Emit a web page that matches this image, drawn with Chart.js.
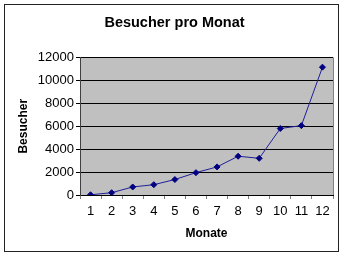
<!DOCTYPE html>
<html lang="de">
<head>
    <meta charset="UTF-8">
    <title>Besucher pro Monat</title>
    <script src="https://cdn.jsdelivr.net/npm/chart.js@4/dist/chart.umd.min.js"></script>
    <style>
        html, body { margin: 0; padding: 0; background: #fff; }
        #wrap { width: 344px; height: 256px; }
    </style>
</head>
<body>
<div id="wrap"><canvas id="myChart" width="344" height="256"></canvas></div>
<script>
    // ------------------------------------------------------------------ data

    var months = ['1', '2', '3', '4', '5', '6', '7', '8', '9', '10', '11', '12']
    var visitors = [20, 200, 700, 900, 1350, 1950, 2450, 3380, 3200, 5800, 6050, 11150]
    var yTicks = [0, 2000, 4000, 6000, 8000, 10000, 12000]

    // -------------------------------------------------------------- plugins

    // grey plot area plus the outer frame, like the old Excel chart
    var excelLook = {
      id: 'excelLook',
      beforeDraw: function (chart) {
        var ctx = chart.ctx
        var a = chart.chartArea
        ctx.save()
        ctx.fillStyle = '#fff'
        ctx.fillRect(0, 0, chart.width, chart.height)
        ctx.strokeStyle = '#222'
        ctx.lineWidth = 1
        ctx.strokeRect(4.5, 4.5, 334, 247)
        ctx.fillStyle = '#c0c0c0'
        ctx.fillRect(a.left, a.top, a.right - a.left, a.bottom - a.top)
        ctx.restore()
      },
      afterDatasetsDraw: function (chart) {
        var ctx = chart.ctx
        var a = chart.chartArea
        ctx.save()
        ctx.strokeStyle = '#808080'
        ctx.lineWidth = 1
        ctx.beginPath()
        ctx.moveTo(Math.round(a.right) + 0.5, a.top)
        ctx.lineTo(Math.round(a.right) + 0.5, a.bottom)
        ctx.stroke()
        ctx.restore()
      }
    }

    // ---------------------------------------------------------------- chart

    var ctx = document.getElementById('myChart').getContext('2d')

    var myChart = new Chart(ctx, {
      type: 'line',
      data: {
        labels: months,
        datasets: [{
          label: 'Besucher',
          data: visitors,
          borderColor: '#1f1f99',
          borderWidth: 1,
          pointStyle: 'rectRot',
          pointRadius: 3,
          pointBackgroundColor: '#000080',
          pointBorderColor: '#000080',
          pointBorderWidth: 1,
          tension: 0
        }]
      },
      options: {
        responsive: false,
        animation: false,
        layout: { padding: { left: 16, right: 11, top: 0, bottom: 10 } },
        plugins: {
          legend: { display: false },
          tooltip: { enabled: false },
          title: {
            display: true,
            text: 'Besucher pro Monat',
            color: '#000',
            font: { family: 'Liberation Sans', size: 14.5, weight: 'bold' },
            padding: { top: 14, bottom: 26 }
          }
        },
        scales: {
          x: {
            offset: true,
            grid: {
              offset: true,
              drawOnChartArea: false,
              color: '#808080',
              tickLength: 4
            },
            border: { color: '#000', width: 1 },
            ticks: {
              color: '#000',
              padding: 5,
              maxRotation: 0,
              autoSkip: false,
              font: { family: 'Liberation Sans', size: 13 }
            },
            title: {
              display: true,
              text: 'Monate',
              color: '#000',
              font: { family: 'Liberation Sans', size: 12, weight: 'bold' },
              padding: { top: 4, bottom: 5 }
            },
            afterFit: function (scale) { scale.height = 51 }
          },
          y: {
            min: 0,
            max: 12000,
            afterBuildTicks: function (scale) {
              scale.ticks = yTicks.map(function (v) { return { value: v } })
            },
            grid: {
              color: '#000',
              tickLength: 4
            },
            border: { color: '#404040', width: 1 },
            ticks: {
              color: '#000',
              padding: 2,
              font: { family: 'Liberation Sans', size: 13 },
              callback: function (v) { return String(v) }
            },
            title: {
              display: true,
              text: 'Besucher',
              color: '#000',
              font: { family: 'Liberation Sans', size: 12, weight: 'bold' },
              padding: { top: 0, bottom: 0 }
            },
            afterFit: function (scale) { scale.width = 64 }
          }
        }
      },
      plugins: [excelLook]
    })
</script>
</body>
</html>
